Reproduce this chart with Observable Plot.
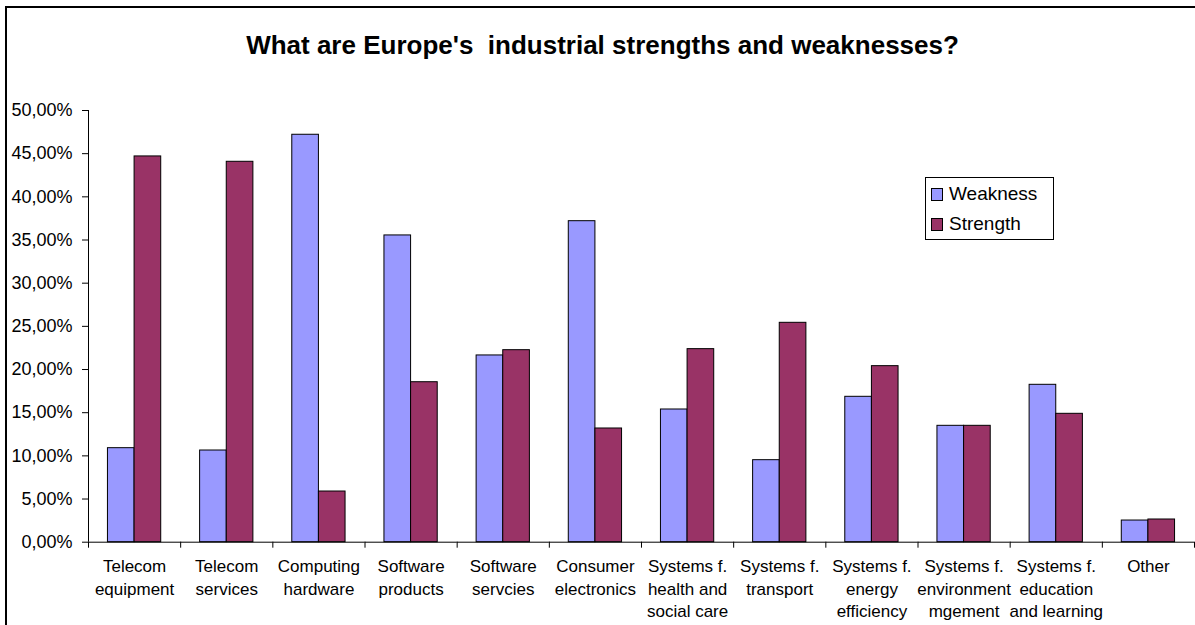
<!DOCTYPE html>
<html>
<head>
<meta charset="utf-8">
<script src="https://cdn.jsdelivr.net/npm/d3@7"></script>
<script src="https://cdn.jsdelivr.net/npm/@observablehq/plot@0.6"></script>
<style>
  html, body { margin: 0; padding: 0; background: #fff; }
  #wrap { position: relative; width: 1195px; height: 625px; overflow: hidden; font-family: Arial, "Liberation Sans", sans-serif; color: #000; }
  #border { position: absolute; left: 5px; top: 6px; width: 1300px; height: 800px; border-top: 2px solid #000; border-left: 2px solid #000; }
  #title { position: absolute; left: 5px; top: 32px; width: 1195px; text-align: center; font-weight: bold; font-size: 26px; line-height: 26px; white-space: pre; }
  #chart { position: absolute; left: 0; top: 0; }
  #legend { position: absolute; left: 925px; top: 177px; }
</style>
</head>
<body>
<div id="wrap">
  <div id="border"></div>
  <div id="chart"></div>
  <div id="title">What are Europe's  industrial strengths and weaknesses?</div>
  <svg id="legend" width="130" height="64"></svg>
</div>
<script>
const categories = [
  "Telecom\nequipment", "Telecom\nservices", "Computing\nhardware", "Software\nproducts",
  "Software\nservcies", "Consumer\nelectronics", "Systems f.\nhealth and\nsocial care",
  "Systems f.\ntransport", "Systems f.\nenergy\nefficiency", "Systems f.\nenvironment\nmgement",
  "Systems f.\neducation\nand learning", "Other"
];
const weakness = [0.1089, 0.1062, 0.4719, 0.3553, 0.2163, 0.3718, 0.1537, 0.0950, 0.1684, 0.1348, 0.1823, 0.0251];
const strength = [0.4468, 0.4406, 0.0587, 0.1853, 0.2224, 0.1317, 0.2236, 0.2541, 0.2039, 0.1348, 0.1487, 0.0263];
const series = ["Weakness", "Strength"];
const colors = ["#9999FF", "#993366"];
const yTicks = [0, 0.05, 0.10, 0.15, 0.20, 0.25, 0.30, 0.35, 0.40, 0.45, 0.50];

const table = [];
categories.forEach((c, i) => {
  table.push({category: c, series: series[0], value: weakness[i]});
  table.push({category: c, series: series[1], value: strength[i]});
});

const W = 1195, H = 625;
const mL = 88, mR = 1, mT = 110, mB = 83.3;
const step = (W - mL - mR) / categories.length;
const tickLen = 6 / ((H - mT - mB) / 0.5);

const fmt = d => (d * 100).toFixed(2).replace(".", ",") + "%";

const chart = Plot.plot({
  width: W, height: H,
  marginLeft: mL, marginRight: mR, marginTop: mT, marginBottom: mB,
  style: {background: "transparent", fontFamily: "Arial, 'Liberation Sans', sans-serif", color: "#000", overflow: "visible"},
  fx: {domain: categories, padding: 0, round: false, axis: null},
  x: {domain: series, paddingInner: 0, paddingOuter: 0.73, round: false, axis: null},
  y: {domain: [0, 0.5], axis: null},
  color: {domain: series, range: colors},
  marks: [
    Plot.barY(table, {fx: "category", x: "series", y: "value", fill: "series", stroke: "#000", strokeWidth: 1}),
    Plot.ruleY([0], {stroke: "#000", strokeWidth: 1}),
    Plot.ruleX(categories, {fx: d => d, x: null, y1: 0, y2: -tickLen, dx: -step / 2, stroke: "#000"}),
    Plot.ruleX([categories[categories.length - 1]], {fx: d => d, x: null, y1: 0, y2: -tickLen, dx: step / 2, stroke: "#000"}),
    Plot.ruleX([categories[0]], {fx: d => d, x: null, y1: 0, y2: 0.5, dx: -step / 2, stroke: "#000"}),
    Plot.text(categories, {fx: d => d, x: null, y: null, text: d => d, frameAnchor: "bottom", lineAnchor: "top", dy: 14, fontSize: 17, lineHeight: 1.32, fill: "#000"}),
    Plot.axisY({ticks: yTicks, tickFormat: fmt, tickSize: 6, tickPadding: 10, fontSize: 18, label: null, stroke: "#000", fill: "#000"})
  ]
});
document.getElementById("chart").appendChild(chart);

// legend
const lg = d3.select("#legend");
lg.append("rect").attr("x", 0.5).attr("y", 0.5).attr("width", 128).attr("height", 62).attr("fill", "#fff").attr("stroke", "#000");
series.forEach((s, i) => {
  const y0 = 11 + i * 30;
  lg.append("rect").attr("x", 6.5).attr("y", y0 + 0.5).attr("width", 11).attr("height", 12).attr("fill", colors[i]).attr("stroke", "#000");
  lg.append("text").attr("x", 24).attr("y", y0 + 12).attr("font-size", 19).attr("font-family", "Arial, 'Liberation Sans', sans-serif").attr("fill", "#000").text(s);
});
</script>
</body>
</html>
